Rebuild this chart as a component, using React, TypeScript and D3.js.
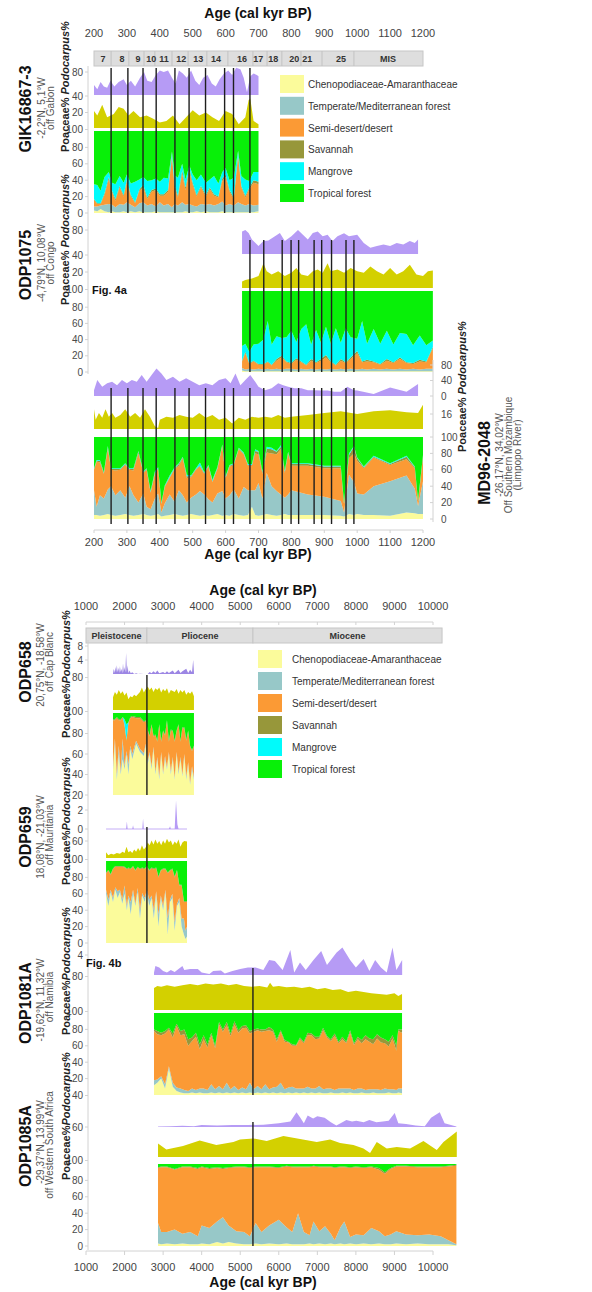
import React from "react";
import * as d3 from "d3";

const FONT = "'Liberation Sans', Arial, Helvetica, sans-serif";

// ---------- shared ----------
const GROUPS = [
  "Chenopodiaceae-Amaranthaceae",
  "Temperate/Mediterranean forest",
  "Semi-desert/desert",
  "Savannah",
  "Mangrove",
  "Tropical forest",
];
const GROUP_COLORS = ["#fbfb9b", "#97c8c8", "#fb9a35", "#97973a", "#00fbfb", "#08f008"];
const PODO_COLOR = "#b69bf5";
const POA_COLOR = "#d3d000";
const POL_TICKS = [100, 80, 60, 40, 20, 0];

// ---------- Fig 4a axis ----------
const TICKS_A = [200, 300, 400, 500, 600, 700, 800, 900, 1000, 1100, 1200];
const MIS_LABELS = ["7", "8", "9", "10", "11", "12", "13", "14", "16", "17", "18", "20", "21", "25", "MIS"];
const MIS_LABEL_AGE = [227, 285, 334, 374, 413, 465, 517, 571, 650, 699, 745, 809, 848, 951, 1094];
const MIS_BOUNDS = [252, 306, 352, 385, 437, 486, 543, 607, 683, 726, 771, 829, 893, 990];
const TERMINATIONS = [252, 303, 349, 389, 446, 489, 539, 597, 624, 674, 716, 772, 799, 822, 869, 892, 922, 966, 990];

// ---------- Fig 4b axis ----------
const TICKS_B = [1000, 2000, 3000, 4000, 5000, 6000, 7000, 8000, 9000, 10000];
const EPOCHS = ["Pleistocene", "Pliocene", "Miocene"];
const EPOCH_START = [1000, 2580, 5330];
const EPOCH_END = [2580, 5330, 10235];
const LINE_658 = 2580;
const LINE_1081 = 5330;

// ---------- GIK16867-3 ----------
const GIK_AGE = [200,210,220,232,245,255,265,278,290,300,312,325,338,350,362,375,388,400,412,425,437,445,455,468,478,490,500,512,525,540,552,565,578,590,600,612,625,638,648,660,672,685,700];
const GIK_CH = [3,2,5,2,1,2,1,1,2,1,2,1,2,1,1,1,2,1,1,1,1,1,1,1,2,1,1,2,1,2,1,1,1,2,1,1,1,1,1,1,1,1,2];
const GIK_TE = [5,6,4,8,10,8,6,10,8,12,8,6,10,12,8,10,6,12,8,10,6,10,8,12,8,10,8,6,10,8,10,8,10,12,8,10,8,12,10,8,10,8,8];
const GIK_DE = [8,3,2,12,30,15,8,20,10,25,10,5,15,18,8,15,20,8,12,15,60,20,10,35,18,40,25,12,20,10,18,12,8,25,35,15,8,55,20,10,18,28,25];
const GIK_SA = [1,1,1,2,3,2,2,2,2,3,2,1,2,3,2,2,2,2,2,2,4,3,2,4,3,4,3,2,2,2,2,2,1,3,3,2,2,4,2,2,2,3,3];
const GIK_MA = [18,22,15,20,6,10,18,12,15,6,14,25,12,10,20,12,12,15,20,14,4,12,22,8,10,3,10,18,14,15,10,22,16,8,8,12,24,4,12,20,8,10,12];
const GIK_PODO_AGE = [200,210,220,230,240,250,262,275,290,300,312,325,340,352,362,375,388,400,412,425,437,448,458,470,482,495,508,520,532,545,558,570,582,595,608,620,632,645,655,665,675,685,695,700];
const GIK_PODO = [35,20,45,30,25,50,30,45,55,35,50,30,60,80,50,45,70,85,80,85,60,40,85,75,60,85,50,35,60,70,40,30,55,75,85,70,95,90,60,10,65,75,70,65];
const GIK_POA_AGE = [200,210,225,240,260,275,290,305,320,340,360,380,400,420,440,460,480,500,520,540,560,580,600,620,640,660,670,675,685,700];
const GIK_POA = [22,16,30,14,18,27,25,16,22,14,16,12,7,9,16,5,14,23,16,20,14,9,22,18,5,14,36,38,9,5];

// ---------- ODP1075 ----------
const O1075_AGE = [650,660,672,685,700,715,728,740,755,770,785,800,815,830,845,860,875,890,905,920,935,950,965,980,1000,1015,1030,1050,1070,1090,1110,1130,1150,1170,1190,1210,1230];
const O1075_CH = [2,1,1,1,1,1,1,1,1,1,1,1,1,1,1,1,1,1,1,1,1,1,1,1,1,1,1,1,1,1,1,1,1,1,1,1,1];
const O1075_TE = [3,2,3,2,3,2,3,2,3,2,3,3,2,3,2,3,2,3,2,3,2,3,2,3,2,3,2,3,2,3,2,3,2,3,2,3,3];
const O1075_DE = [8,20,6,10,5,6,8,5,10,15,8,6,12,8,5,10,8,10,15,8,5,10,8,12,20,8,10,8,6,10,8,12,8,6,10,8,25];
const O1075_SA = [1,2,1,1,1,1,1,1,2,2,1,1,2,1,1,2,1,2,3,1,1,2,1,2,3,1,2,1,1,2,1,2,1,1,2,1,2];
const O1075_MA = [18,10,14,20,25,30,50,25,28,22,30,40,20,40,50,18,40,20,35,22,45,20,42,25,15,50,20,40,25,35,22,30,35,22,30,20,8];
const O1075_PODO_AGE = [650,660,670,680,700,715,730,750,765,780,800,820,835,850,865,880,895,910,925,940,960,975,1000,1020,1040,1060,1080,1100,1120,1140,1160,1175,1185];
const O1075_PODO = [75,80,70,48,27,43,45,59,70,43,59,80,64,48,70,75,59,64,43,59,69,59,64,37,21,27,32,27,37,32,43,37,48];
const O1075_POA_AGE = [650,660,680,700,715,725,740,760,780,800,815,830,850,865,880,895,910,920,940,960,980,1000,1020,1040,1060,1080,1100,1120,1140,1160,1180,1200,1215,1230];
const O1075_POA = [8,10,12,15,31,21,17,21,15,19,25,17,15,21,23,19,31,21,23,19,25,21,19,27,21,17,25,17,21,29,17,15,21,22];

// ---------- MD96-2048 ----------
const MD_AGE = [200,208,218,230,242,252,265,280,295,308,320,335,350,360,372,385,395,405,415,430,445,458,470,482,495,510,522,535,548,560,575,590,600,612,625,640,655,668,680,690,700,712,725,740,755,768,780,790,800,850,900,950,960,975,990,1000,1020,1050,1100,1150,1175,1185,1200];
const MD_CH = [5,5,4,5,6,5,4,5,6,5,4,5,6,5,4,5,6,3,4,5,6,5,4,5,6,5,4,5,4,5,6,4,5,4,6,5,4,5,15,5,4,5,6,5,4,5,6,5,5,5,5,4,3,6,5,6,5,5,4,8,7,6,6];
const MD_TE = [30,10,25,20,30,35,25,30,20,35,25,15,25,10,8,20,25,5,15,25,15,30,25,15,20,25,30,25,20,15,25,30,20,25,30,20,35,30,20,30,40,20,50,35,30,25,20,25,30,25,22,18,5,48,40,25,25,35,42,45,30,10,40];
const MD_DE = [25,55,40,30,50,20,30,25,40,20,30,60,25,45,20,30,30,10,20,20,40,30,45,30,25,30,30,25,40,25,30,55,25,35,30,60,40,30,30,45,35,30,25,40,45,55,30,50,30,35,35,40,10,20,35,40,32,35,20,20,25,5,30];
const MD_SA = [1,1,2,1,1,1,2,1,1,1,2,2,1,1,1,1,1,1,1,1,1,2,1,2,1,1,1,1,1,1,1,1,1,1,1,1,1,1,1,3,3,2,5,5,3,3,2,1,2,2,2,2,1,4,8,3,1,1,1,3,1,1,1];
const MD_MA = [1,1,1,1,2,1,1,1,1,1,1,1,1,1,1,2,1,1,1,2,1,1,1,2,1,1,4,1,1,2,1,1,1,1,1,1,1,1,1,2,1,1,2,2,1,2,1,1,1,1,1,1,1,2,1,1,1,1,1,1,1,1,1];
const MD_PODO_AGE = [200,210,225,240,255,270,285,300,315,330,345,360,375,390,405,420,440,460,480,500,520,540,560,580,600,615,630,645,660,675,690,700,720,740,760,775,790,810,830,850,870,890,910,930,950,970,990,1000,1050,1100,1150,1185];
const MD_PODO = [15,41,24,33,37,28,41,33,41,37,54,37,54,71,58,41,50,37,46,37,28,33,28,41,46,33,58,28,41,54,37,24,15,20,33,28,24,20,20,15,15,14,14,11,11,24,15,14,5,22,11,31];
const MD_POA_AGE = [200,205,215,225,235,245,255,265,280,295,310,325,340,355,370,385,395,400,420,440,460,480,500,520,540,560,580,600,620,640,660,680,700,720,740,760,780,800,850,900,950,1000,1050,1100,1150,1185,1200];
const MD_POA = [21,10,17,12,21,13,17,12,15,21,13,17,12,21,13,3,1,10,13,12,15,13,12,17,12,15,10,12,6,12,10,13,12,13,12,15,12,13,15,17,19,16,19,20,18,17,26];

// ---------- ODP658 ----------
const O658_AGE = [1700,1750,1800,1850,1900,1950,2000,2050,2100,2150,2200,2300,2400,2500,2550,2600,2650,2700,2750,2800,2850,2900,2950,3000,3050,3100,3150,3200,3250,3300,3350,3400,3450,3500,3550,3600,3650,3700,3750,3800];
const O658_CH = [45,70,35,60,40,55,45,60,40,65,55,70,62,58,68,50,60,45,65,40,55,35,60,40,55,45,60,40,55,35,60,40,55,38,58,35,50,30,45,35];
const O658_TE = [3,5,5,8,3,20,3,3,10,3,5,3,3,3,2,3,2,3,2,3,2,3,2,2,3,2,2,3,2,2,2,3,2,2,2,3,2,2,3,2];
const O658_DE = [45,18,55,25,50,20,40,10,40,27,36,22,30,30,22,30,15,40,10,35,15,50,10,40,20,45,10,40,25,35,20,45,15,45,25,35,30,35,15,30];
const O658_SA = [1,1,1,1,1,1,1,1,1,1,1,1,1,1,1,1,1,1,1,1,1,1,1,1,1,1,1,1,1,1,1,1,1,1,1,1,1,1,1,1];
const O658_MA = [0,0,0,0,0,0,5,15,0,0,0,0,0,0,0,0,0,0,0,0,0,0,0,0,0,0,0,0,0,0,0,0,0,0,0,0,0,0,0,0];
const O658_PODO_AGE = [1700,1720,1740,1760,1780,1800,1820,1840,1860,1880,1900,1920,1940,1960,1980,2000,2020,2040,2060,2080,2100,2130,2160,2200,2250,2300,2350,2400,2500,2600,2650,2700,2750,2800,2850,2900,3000,3050,3100,3150,3250,3300,3400,3450,3500,3600,3650,3700,3750,3780,3800];
const O658_PODO = [0,1.5,0.3,2,0.5,2.5,0.5,1.8,0.3,2.2,0.6,1.5,0.2,3,0.5,2,0.4,6,0.5,2.5,0.3,1,0.2,0.5,0,0.2,0,0.1,0,0,0.6,0.2,0.8,0.3,1,0.2,0.6,0.2,0.8,0.3,1,0.2,1.2,0.3,0.8,1.5,0.3,1.2,0.5,4,0.5];
const O658_POA_AGE = [1700,1750,1800,1850,1900,1950,2000,2050,2100,2150,2200,2250,2300,2400,2450,2500,2550,2600,2650,2700,2750,2800,2850,2900,2950,3000,3050,3100,3150,3200,3300,3350,3400,3450,3500,3550,3600,3650,3700,3750,3800];
const O658_POA = [35,50,42,55,45,52,40,48,30,38,35,42,38,50,62,48,58,65,55,62,50,60,55,62,48,58,52,60,45,55,50,58,45,55,48,55,42,50,45,52,38];

// ---------- ODP659 ----------
const O659_AGE = [1520,1580,1640,1700,1760,1820,1880,1940,2000,2060,2100,2160,2220,2280,2340,2400,2460,2520,2580,2640,2700,2760,2820,2880,2940,3000,3060,3120,3180,3240,3300,3360,3420,3480,3540,3580,3620];
const O659_CH = [60,45,62,50,65,55,62,48,60,40,55,35,60,45,62,30,58,50,62,45,55,30,60,20,55,40,62,10,50,55,15,45,50,20,10,5,8];
const O659_TE = [5,8,3,5,3,8,3,5,10,5,3,15,5,3,5,10,3,5,3,8,3,10,3,15,3,5,3,20,3,5,10,3,5,10,20,10,12];
const O659_DE = [20,35,18,35,25,30,28,40,22,45,33,40,28,40,25,50,30,35,28,35,33,50,28,45,30,45,25,55,35,30,55,40,15,40,20,35,30];
const O659_SA = [1,1,1,1,1,1,1,1,1,1,1,1,1,1,1,1,1,1,1,1,1,1,1,1,1,1,1,1,1,1,1,1,1,1,1,1,1];
const O659_MA: number[] = [];
const O659_PODO_AGE = [1520,2040,2060,2080,2200,2220,2240,2460,2480,2500,3150,3180,3200,3300,3335,3370,3400,3620];
const O659_PODO = [0,0,0.8,0,0,0.4,0,0,1.1,0,0,0.3,0,0,3,0.5,0,0];
const O659_POA_AGE = [1520,1580,1650,1720,1800,1880,1950,2000,2050,2100,2150,2200,2250,2300,2350,2400,2450,2500,2550,2600,2650,2700,2750,2800,2850,2900,2950,3000,3050,3100,3150,3200,3250,3300,3350,3400,3450,3500,3550,3620];
const O659_POA = [20,10,15,12,18,15,22,18,40,20,25,18,30,22,35,25,45,30,38,55,45,62,48,65,50,60,45,62,50,68,55,62,45,58,50,65,40,55,60,58];

// ---------- ODP1081A ----------
const O1081_AGE = [2764,2850,2950,3050,3150,3250,3350,3450,3550,3650,3750,3850,3950,4050,4150,4250,4350,4450,4550,4650,4750,4850,4950,5050,5150,5250,5350,5450,5550,5650,5750,5850,5950,6050,6150,6250,6350,6450,6550,6650,6750,6850,6950,7050,7150,7250,7350,7450,7550,7650,7750,7850,7950,8050,8150,8250,8350,8450,8550,8650,8750,8850,8950,9050,9100,9197];
const O1081_CH = [12,15,20,8,32,10,5,3,2,2,3,2,3,2,2,3,2,3,2,3,2,3,2,3,2,3,2,3,2,3,2,3,2,3,2,3,2,3,2,3,2,3,2,3,2,2,3,2,2,3,2,3,2,2,3,2,2,3,2,2,2,3,2,2,3,2];
const O1081_TE = [6,4,3,5,3,5,4,5,4,3,5,4,5,6,4,10,5,8,5,12,5,8,4,6,5,12,5,8,5,10,5,6,8,12,5,6,8,5,6,5,8,5,6,8,5,6,5,4,6,5,6,5,4,6,5,4,5,4,5,4,6,4,5,4,5,6];
const O1081_DE = [60,55,50,62,45,55,75,65,68,55,58,65,48,60,52,60,50,75,70,70,65,75,70,72,75,60,70,68,70,65,72,68,55,62,58,55,50,52,60,55,63,65,60,58,72,62,58,66,55,60,55,68,55,60,55,62,58,55,62,58,55,52,62,48,70,68];
const O1081_SA = [2,4,3,3,2,5,3,5,6,8,4,5,6,5,4,3,3,3,3,4,3,4,3,3,3,3,3,2,3,2,4,3,3,2,2,1,2,1,2,2,3,2,3,2,3,2,2,3,2,3,2,3,2,3,4,5,4,6,5,6,5,6,4,6,2,4];
const O1081_MA: number[] = [];
const O1081_PODO_AGE = [2764,2800,2900,3000,3100,3200,3300,3500,3550,3700,3900,4000,4200,4300,4500,4600,4800,5000,5200,5400,5600,5750,5900,6100,6300,6400,6550,6700,6900,7100,7250,7500,7650,7850,8000,8200,8350,8500,8650,8800,8950,9050,9200];
const O1081_PODO = [0.5,1.8,1.5,0.8,0.5,1.0,0.6,1.8,1.0,1.2,1.2,0.5,0.2,0.8,0.9,0.3,0.8,1.2,1.5,1.5,1.0,3.0,2.8,1.0,5.0,0.5,2.5,1.0,3.0,4.8,2.0,4.5,5.5,3.0,1.5,3.2,0.8,3.0,1.5,0.5,5.5,1.0,3.0];
const O1081_POA_AGE = [2764,2850,2950,3100,3300,3500,3700,3900,4100,4300,4500,4700,4900,5100,5300,5500,5700,5774,5850,6000,6200,6400,6600,6800,7000,7200,7400,7600,7800,8000,8200,8400,8600,8800,9000,9100,9197];
const O1081_POA = [55,60,58,62,58,62,65,62,66,64,66,62,65,60,58,60,56,68,58,60,57,58,55,58,52,55,50,52,45,48,45,42,40,38,42,35,40];

// ---------- ODP1085A ----------
const O1085_AGE = [2868,2950,3100,3300,3500,3700,3900,4000,4200,4400,4550,4700,4900,5100,5250,5400,5550,5750,6000,6200,6350,6500,6650,6800,6900,7050,7200,7350,7450,7600,7700,7850,8000,8200,8400,8600,8750,8900,9050,9300,9600,9900,10200,10400,10607];
const O1085_CH = [3,2,3,2,3,2,2,3,2,5,3,5,3,2,2,3,2,3,2,3,2,2,2,3,2,3,2,3,2,3,2,3,2,3,2,3,2,2,3,2,3,2,2,2,1];
const O1085_TE = [25,15,14,18,12,15,10,22,20,25,32,20,15,15,10,25,15,22,30,20,15,38,15,10,28,15,22,12,5,20,28,8,12,10,20,15,10,12,15,12,10,12,10,5,1];
const O1085_DE = [67,79,79,73,81,79,82,71,72,65,59,70,78,79,83,68,79,71,63,74,79,56,79,83,67,78,72,81,88,73,66,84,82,82,74,75,76,80,79,83,83,82,84,90,96];
const O1085_SA = [1,1,1,1,1,1,1,1,1,1,1,1,1,1,1,1,1,1,1,1,1,1,1,1,1,1,1,1,1,1,1,1,1,1,1,2,2,1,1,1,1,1,1,1,1];
const O1085_MA: number[] = [];
const O1085_PODO_AGE = [2868,3200,3500,3800,4000,4400,4800,5200,5600,6000,6300,6460,6560,6650,6750,6890,7000,7190,7350,7494,7650,7754,7900,8013,8200,8350,8532,8700,8850,9007,9100,9300,9550,9786,9950,10175,10300,10607];
const O1085_PODO = [0.5,1.0,1.5,1.0,2.5,2.0,2.5,2.5,3.0,5.0,7.0,19,12,5,15,11,14,12,6,2,6,9,7,8,6,9,6,7,8,18,5,4,2,1,12,19,5,0.5];
const O1085_POA_AGE = [2868,3084,3516,3949,4381,4823,4995,5341,5687,6120,6552,6985,7331,7590,7936,8195,8368,8541,8800,9060,9406,9752,10098,10271,10617];
const O1085_POA = [27,15,22,33,24,30,35,37,32,42,36,30,35,28,24,17,8,30,17,20,17,32,14,30,51];

// ---------- scales ----------
const xA = d3.scaleLinear().domain([200, 1200]).range([94, 423]);
const xB = d3.scaleLinear().domain([1000, 10000]).range([86, 433]);
const lin = (d: number[], r: number[]) => d3.scaleLinear().domain(d).range(r);

// ---------- components ----------
function Stack({ x, y, age, series }: any) {
  const keys = ["g0", "g1", "g2", "g3", "g4", "g5"];
  const rows = age.map((a: number, i: number) => {
    const r: any = { age: a };
    let s = 0;
    for (let j = 0; j < 5; j++) {
      const v = series[j][i] ?? 0;
      r[keys[j]] = v;
      s += v;
    }
    r.g5 = Math.max(0, 100 - s);
    return r;
  });
  const st = d3.stack<any>().keys(keys)(rows);
  const area = d3
    .area<any>()
    .x((p: any) => x(p.data.age))
    .y0((p: any) => y(p[0]))
    .y1((p: any) => y(p[1]));
  return (
    <g>
      {st.map((s: any, i: number) => (
        <path key={i} d={area(s) || ""} fill={GROUP_COLORS[i]} />
      ))}
    </g>
  );
}

function Single({ x, y, age, val, color }: any) {
  const area = d3
    .area<number>()
    .x((_: number, i: number) => x(age[i]))
    .y0(y(0))
    .y1((v: number) => y(v));
  return <path d={area(val) || ""} fill={color} />;
}

// labels: list of [text, y]
function TickLabels({ x, items, anchor = "end" }: any) {
  return (
    <g fontSize={10} fill="#4a4a4a" textAnchor={anchor}>
      {items.map(([t, yy]: [string | number, number], i: number) => (
        <text key={i} x={x} y={yy + 3.5}>
          {t}
        </text>
      ))}
    </g>
  );
}
const tk = (s: any, vals: number[]) => vals.map((v) => [v, s(v)] as [number, number]);
const mid = (label: string | number, a: number, b: number) => [label, (a + b) / 2] as [string | number, number];

function VText({ x, y, children, size = 10, weight = "normal", fill = "#555", anchor = "middle" }: any) {
  return (
    <text
      transform={`translate(${x},${y}) rotate(-90)`}
      textAnchor={anchor}
      dominantBaseline="central"
      fontSize={size}
      fontWeight={weight}
      fill={fill}
    >
      {children}
    </text>
  );
}

function AxisName({ x, y, space }: any) {
  return (
    <VText x={x} y={y} size={11} weight="bold" fill="#222" anchor="start">
      <tspan>{space ? "Poaceae% " : "Poaceae%"}</tspan>
      <tspan fontStyle="italic">Podocarpus%</tspan>
    </VText>
  );
}

function VLines({ x, ages, y1, y2 }: any) {
  return (
    <g stroke="#1e1e1e" strokeWidth={1.4}>
      {ages.map((a: number, i: number) => (
        <line key={i} x1={x(a)} x2={x(a)} y1={y1} y2={y2} />
      ))}
    </g>
  );
}

function Legend({ x, y0, step, gap }: any) {
  return (
    <g>
      {GROUPS.map((g, i) => (
        <g key={g}>
          <rect x={x} y={y0 + i * step - 9} width={24} height={18} fill={GROUP_COLORS[i]} />
          <text x={x + gap} y={y0 + i * step + 4} fontSize={10} fill="#333">
            {g}
          </text>
        </g>
      ))}
    </g>
  );
}

function AxisLine({ x, y1, y2, ys }: any) {
  return (
    <g stroke="#d2d2d2" strokeWidth={1}>
      <line x1={x} x2={x} y1={y1} y2={y2} />
      {ys.map((v: number, i: number) => (
        <line key={i} x1={x - 3} x2={x} y1={v} y2={v} />
      ))}
    </g>
  );
}

export default function App() {
  // Fig 4a panel scales
  const gPodo = lin([0, 80], [95, 72]);
  const gPoa = lin([0, 40], [128, 97]);
  const gPol = lin([0, 100], [213, 131]);
  const oPodo = lin([0, 80], [254, 230]);
  const oPoa = lin([0, 40], [288, 256]);
  const oPol = lin([0, 100], [372, 291]);
  const mPodo = lin([0, 80], [396, 365]);
  const mPoa = lin([0, 16], [429, 414]);
  const mPol = lin([0, 100], [519, 437]);
  // Fig 4b panel scales
  const p8Podo = lin([0, 8], [674, 646]);
  const p8Poa = lin([0, 80], [710, 681]);
  const p8Pol = d3.scaleLinear().domain([20, 100]).range([795, 713]).clamp(true);
  const p9Podo = lin([0, 2], [829, 810]);
  const p9Poa = lin([0, 60], [858, 841]);
  const p9Pol = lin([0, 100], [943, 861]);
  const p81Podo = lin([0, 4], [975, 955]);
  const p81Poa = lin([0, 80], [1010, 978]);
  const p81Pol = lin([0, 100], [1095, 1013]);
  const p85Podo = lin([0, 40], [1127, 1096]);
  const p85Poa = lin([0, 60], [1157, 1127]);
  const p85Pol = lin([0, 100], [1246, 1164]);

  const termGik = TERMINATIONS.filter((t) => t <= 700);
  const term1075 = TERMINATIONS.filter((t) => t >= 650);

  // left tick labels of Fig 4a (coinciding labels merged)
  const leftA = [
    ...tk(gPodo, [80]),
    mid(40, gPodo(0), gPoa(40)),
    ...tk(gPoa, [20]),
    mid(100, gPoa(0), gPol(100)),
    ...tk(gPol, [80, 60, 40, 20, 0]),
    ...tk(oPodo, [80]),
    mid(40, oPodo(0), oPoa(40)),
    ...tk(oPoa, [20]),
    mid(100, oPoa(0), oPol(100)),
    ...tk(oPol, [80, 60, 40, 20, 0]),
  ];
  const rightA = [...tk(mPodo, [80, 40, 0]), ...tk(mPoa, [16]), ...tk(mPol, POL_TICKS)];
  const leftB = [
    ...tk(p8Podo, [8, 4]),
    mid(80, p8Podo(0), p8Poa(80)),
    mid(100, p8Poa(0), p8Pol(100)),
    ...tk(p8Pol, [80, 60, 40, 20]),
    ...tk(p9Podo, [2, 0]),
    ...tk(p9Poa, [60]),
    mid(100, p9Poa(0), p9Pol(100)),
    ...tk(p9Pol, [80, 60, 40, 20, 0]),
    ...tk(p81Podo, [4]),
    mid(80, p81Podo(0), p81Poa(80)),
    mid(100, p81Poa(0), p81Pol(100)),
    ...tk(p81Pol, [80, 60, 40, 20]),
    mid(40, p81Pol(0), p85Podo(40)),
    ...tk(p85Poa, [60]),
    mid(100, p85Poa(0), p85Pol(100)),
    ...tk(p85Pol, [80, 60, 40, 20, 0]),
  ];

  return (
    <svg
      width={592}
      height={1292}
      style={{ position: "absolute", left: 0, top: 0, background: "#fff" }}
      fontFamily={FONT}
    >
      <rect x={0} y={0} width={592} height={1292} fill="#fff" />

      {/* ================= Fig 4a ================= */}
      <text x={258} y={18} textAnchor="middle" fontSize={14} fontWeight="bold" fill="#111">
        Age (cal kyr BP)
      </text>
      <g fontSize={11} fill="#444" textAnchor="middle">
        {TICKS_A.map((t) => (
          <text key={t} x={xA(t)} y={37}>
            {t}
          </text>
        ))}
      </g>
      {/* MIS bar */}
      <rect x={xA(200)} y={51} width={xA(1200) - xA(200)} height={15} fill="#dedede" stroke="#c6c6c6" />
      <g stroke="#c2c2c2">
        {MIS_BOUNDS.map((b) => (
          <line key={b} x1={xA(b)} x2={xA(b)} y1={51} y2={66} />
        ))}
      </g>
      <g fontSize={9} fontWeight="bold" fill="#333" textAnchor="middle">
        {MIS_LABELS.map((l, i) => (
          <text key={l} x={xA(MIS_LABEL_AGE[i])} y={62}>
            {l}
          </text>
        ))}
      </g>

      {/* GIK16867-3 */}
      <Single x={xA} y={gPodo} age={GIK_PODO_AGE} val={GIK_PODO} color={PODO_COLOR} />
      <Single x={xA} y={gPoa} age={GIK_POA_AGE} val={GIK_POA} color={POA_COLOR} />
      <Stack x={xA} y={gPol} age={GIK_AGE} series={[GIK_CH, GIK_TE, GIK_DE, GIK_SA, GIK_MA]} />
      <VLines x={xA} ages={termGik} y1={68} y2={213} />

      {/* ODP1075 */}
      <Single x={xA} y={oPodo} age={O1075_PODO_AGE} val={O1075_PODO} color={PODO_COLOR} />
      <Single x={xA} y={oPoa} age={O1075_POA_AGE} val={O1075_POA} color={POA_COLOR} />
      <Stack x={xA} y={oPol} age={O1075_AGE} series={[O1075_CH, O1075_TE, O1075_DE, O1075_SA, O1075_MA]} />
      <VLines x={xA} ages={term1075} y1={240} y2={372} />

      {/* MD96-2048 */}
      <Single x={xA} y={mPodo} age={MD_PODO_AGE} val={MD_PODO} color={PODO_COLOR} />
      <Single x={xA} y={mPoa} age={MD_POA_AGE} val={MD_POA} color={POA_COLOR} />
      <Stack x={xA} y={mPol} age={MD_AGE} series={[MD_CH, MD_TE, MD_DE, MD_SA, MD_MA]} />
      <VLines x={xA} ages={TERMINATIONS} y1={388} y2={524} />

      {/* left axis 4a */}
      <AxisLine x={88} y1={66} y2={374} ys={leftA.map((d) => d[1])} />
      <TickLabels x={83} items={leftA} />

      {/* right axis MD96 */}
      <AxisLine x={433} y1={360} y2={522} ys={rightA.map((d) => d[1])} />
      <TickLabels x={441} items={rightA} anchor="start" />

      {/* bottom axis 4a */}
      <line x1={xA(200)} x2={xA(1200)} y1={530} y2={530} stroke="#d2d2d2" />
      <g stroke="#d2d2d2">
        {TICKS_A.map((t) => (
          <line key={t} x1={xA(t)} x2={xA(t)} y1={530} y2={533} />
        ))}
      </g>
      <g fontSize={11} fill="#444" textAnchor="middle">
        {TICKS_A.map((t) => (
          <text key={t} x={xA(t)} y={546}>
            {t}
          </text>
        ))}
      </g>
      <text x={258} y={559} textAnchor="middle" fontSize={14} fontWeight="bold" fill="#111">
        Age (cal kyr BP)
      </text>

      {/* legend 4a */}
      <Legend x={280} y0={84} step={21.8} gap={28} />

      {/* labels 4a */}
      <VText x={25} y={109} size={16} weight="bold" fill="#111">GIK16867-3</VText>
      <VText x={41} y={108} size={10}>-2,2°N, 5,1°W</VText>
      <VText x={50} y={108} size={10}>off Gabon</VText>
      <AxisName x={65} y={152} space />

      <VText x={25} y={265} size={16} weight="bold" fill="#111">ODP1075</VText>
      <VText x={41} y={263} size={10}>-4,79°N, 10,08°W</VText>
      <VText x={50} y={263} size={10}>off Congo</VText>
      <AxisName x={65} y={305} space />
      <text x={92} y={294} fontSize={11} fontWeight="bold" fill="#111">Fig. 4a</text>

      <AxisName x={462} y={452} space />
      <VText x={484} y={463} size={16} weight="bold" fill="#111">MD96-2048</VText>
      <VText x={499} y={455} size={10}>-26,17°N, 34,02°W</VText>
      <VText x={508} y={455} size={10}>Off Southern Mozambique</VText>
      <VText x={517} y={455} size={10}>(Limpopo River)</VText>

      {/* ================= Fig 4b ================= */}
      <text x={263} y={595} textAnchor="middle" fontSize={14} fontWeight="bold" fill="#111">
        Age (cal kyr BP)
      </text>
      <g fontSize={11} fill="#444" textAnchor="middle">
        {TICKS_B.map((t) => (
          <text key={t} x={xB(t)} y={610}>
            {t}
          </text>
        ))}
      </g>
      <line x1={xB(1000)} x2={xB(10000)} y1={622} y2={622} stroke="#d2d2d2" />
      <g stroke="#d2d2d2">
        {TICKS_B.map((t) => (
          <line key={t} x1={xB(t)} x2={xB(t)} y1={622} y2={625} />
        ))}
      </g>
      {/* epoch bar */}
      {EPOCHS.map((e, i) => (
        <g key={e}>
          <rect
            x={xB(EPOCH_START[i])}
            y={628}
            width={xB(EPOCH_END[i]) - xB(EPOCH_START[i])}
            height={15}
            fill="#dedede"
            stroke="#c6c6c6"
          />
          <text
            x={(xB(EPOCH_START[i]) + xB(EPOCH_END[i])) / 2}
            y={639}
            textAnchor="middle"
            fontSize={9}
            fontWeight="bold"
            fill="#333"
          >
            {e}
          </text>
        </g>
      ))}

      {/* ODP658 */}
      <Single x={xB} y={p8Podo} age={O658_PODO_AGE} val={O658_PODO} color="#9c86e4" />
      <Single x={xB} y={p8Poa} age={O658_POA_AGE} val={O658_POA} color={POA_COLOR} />
      <Stack x={xB} y={p8Pol} age={O658_AGE} series={[O658_CH, O658_TE, O658_DE, O658_SA, O658_MA]} />
      <VLines x={xB} ages={[LINE_658]} y1={675} y2={795} />

      {/* ODP659 */}
      <Single x={xB} y={p9Podo} age={O659_PODO_AGE} val={O659_PODO} color={PODO_COLOR} />
      <line x1={xB(1520)} x2={xB(3620)} y1={829} y2={829} stroke={PODO_COLOR} strokeWidth={0.8} />
      <Single x={xB} y={p9Poa} age={O659_POA_AGE} val={O659_POA} color={POA_COLOR} />
      <Stack x={xB} y={p9Pol} age={O659_AGE} series={[O659_CH, O659_TE, O659_DE, O659_SA, O659_MA]} />
      <VLines x={xB} ages={[LINE_658]} y1={827} y2={943} />

      {/* ODP1081A */}
      <Single x={xB} y={p81Podo} age={O1081_PODO_AGE} val={O1081_PODO} color={PODO_COLOR} />
      <Single x={xB} y={p81Poa} age={O1081_POA_AGE} val={O1081_POA} color={POA_COLOR} />
      <Stack x={xB} y={p81Pol} age={O1081_AGE} series={[O1081_CH, O1081_TE, O1081_DE, O1081_SA, O1081_MA]} />
      <VLines x={xB} ages={[LINE_1081]} y1={968} y2={1095} />

      {/* ODP1085A */}
      <Single x={xB} y={p85Podo} age={O1085_PODO_AGE} val={O1085_PODO} color={PODO_COLOR} />
      <Single x={xB} y={p85Poa} age={O1085_POA_AGE} val={O1085_POA} color={POA_COLOR} />
      <Stack x={xB} y={p85Pol} age={O1085_AGE} series={[O1085_CH, O1085_TE, O1085_DE, O1085_SA, O1085_MA]} />
      <VLines x={xB} ages={[LINE_1081]} y1={1122} y2={1246} />

      {/* left axis 4b */}
      <AxisLine x={88} y1={640} y2={1250} ys={leftB.map((d) => d[1])} />
      <TickLabels x={83} items={leftB} />

      {/* bottom axis 4b */}
      <line x1={xB(1000)} x2={xB(10000)} y1={1251} y2={1251} stroke="#d2d2d2" />
      <g stroke="#d2d2d2">
        {TICKS_B.map((t) => (
          <line key={t} x1={xB(t)} x2={xB(t)} y1={1251} y2={1255} />
        ))}
      </g>
      <g fontSize={11} fill="#444" textAnchor="middle">
        {TICKS_B.map((t) => (
          <text key={t} x={xB(t)} y={1271}>
            {t}
          </text>
        ))}
      </g>
      <text x={263} y={1287} textAnchor="middle" fontSize={14} fontWeight="bold" fill="#111">
        Age (cal kyr BP)
      </text>

      {/* legend 4b */}
      <Legend x={258} y0={659} step={22} gap={34} />

      {/* labels 4b */}
      <VText x={25} y={672} size={16} weight="bold" fill="#111">ODP658</VText>
      <VText x={40} y={665} size={10}>20,75°N, -18,58°W</VText>
      <VText x={49} y={662} size={10}>off Cap Blanc</VText>
      <AxisName x={66} y={738} />

      <VText x={25} y={837} size={16} weight="bold" fill="#111">ODP659</VText>
      <VText x={40} y={837} size={10}>18,08°N, -21,03°W</VText>
      <VText x={49} y={835} size={10}>off Mauritania</VText>
      <AxisName x={66} y={885} />

      <text x={86} y={967} fontSize={11} fontWeight="bold" fill="#111">Fig. 4b</text>

      <VText x={25} y={1003} size={16} weight="bold" fill="#111">ODP1081A</VText>
      <VText x={40} y={1000} size={10}>-19,62°N, 11,32°W</VText>
      <VText x={49} y={997} size={10}>off Namibia</VText>
      <AxisName x={66} y={1035} />

      <VText x={25} y={1146} size={16} weight="bold" fill="#111">ODP1085A</VText>
      <VText x={40} y={1142} size={10}>-29,37°N, 13,99°W</VText>
      <VText x={49} y={1145} size={10}>off Western South Africa</VText>
      <AxisName x={66} y={1180} />
    </svg>
  );
}
